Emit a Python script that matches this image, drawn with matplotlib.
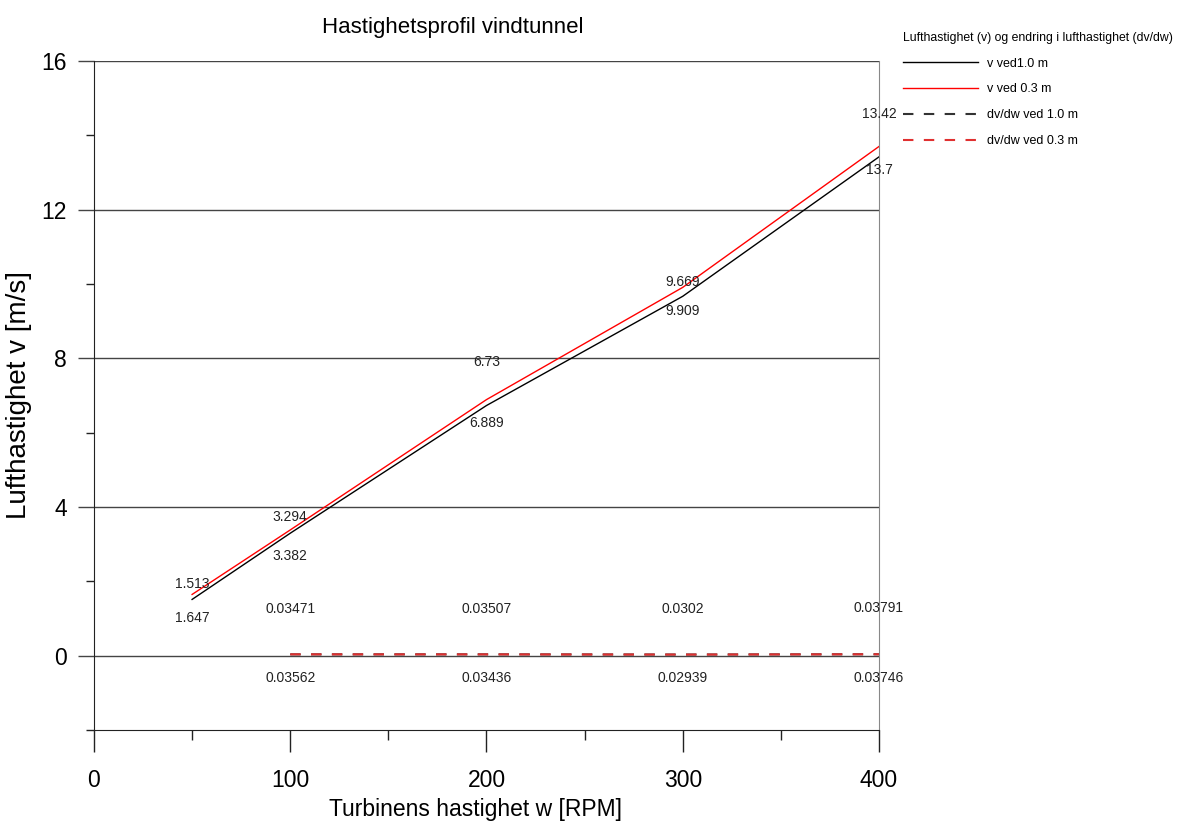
import matplotlib.pyplot as plt
from matplotlib.ticker import MultipleLocator

plt.rcParams['font.family'] = ['Liberation Sans Narrow', 'Liberation Sans', 'DejaVu Sans']

# Data
rpm_v = [50, 100, 200, 300, 400]
v_10 = [1.513, 3.294, 6.73, 9.669, 13.42]
v_03 = [1.647, 3.382, 6.889, 9.909, 13.7]

rpm_dv = [100, 200, 300, 400]
dv_10 = [0.03471, 0.03507, 0.0302, 0.03791]
dv_03 = [0.03562, 0.03436, 0.02939, 0.03746]

# label offsets (points) above/below line
off_v10 = [11, 12, 31, 10, 31]
off_v03 = [-17, -19, -17, -17, -17]

fig = plt.figure(figsize=(12, 8.32), dpi=100)
ax = fig.add_axes([0.0783, 0.1226, 0.6542, 0.8041])

ax.plot(rpm_v, v_10, color='black', lw=1, label='v ved1.0 m')
ax.plot(rpm_v, v_03, color='red', lw=1, label='v ved 0.3 m')
ax.plot(rpm_dv, dv_10, color='#333333', lw=1.5, ls=(0, (5, 5)), label='dv/dw ved 1.0 m')
ax.plot(rpm_dv, dv_03, color='#e03030', lw=1.5, ls=(0, (5, 5)), label='dv/dw ved 0.3 m')

for x, y, o in zip(rpm_v, v_10, off_v10):
    ax.annotate(f'{y:g}', (x, y), xytext=(0, o), textcoords='offset points',
                ha='center', va='center', fontsize=10, color='#222222')
for x, y, o in zip(rpm_v, v_03, off_v03):
    ax.annotate(f'{y:g}', (x, y), xytext=(0, o), textcoords='offset points',
                ha='center', va='center', fontsize=10, color='#222222')
for x, y in zip(rpm_dv, dv_10):
    ax.annotate(f'{y:g}', (x, y), xytext=(0, 33), textcoords='offset points',
                ha='center', va='center', fontsize=10, color='#222222')
for x, y in zip(rpm_dv, dv_03):
    ax.annotate(f'{y:g}', (x, y), xytext=(0, -17), textcoords='offset points',
                ha='center', va='center', fontsize=10, color='#222222')

ax.set_xlim(0, 400)
ax.set_ylim(-2, 16)
ax.xaxis.set_major_locator(MultipleLocator(100))
ax.xaxis.set_minor_locator(MultipleLocator(50))
ax.yaxis.set_major_locator(MultipleLocator(4))
ax.yaxis.set_minor_locator(MultipleLocator(2))

ax.grid(axis='y', which='major', color='#444444', lw=1)
ax.set_axisbelow(True)

ax.spines['top'].set_visible(False)
ax.spines['right'].set_color('#888888')
ax.spines['left'].set_color('#222222')
ax.spines['bottom'].set_color('#222222')

ax.tick_params(axis='y', which='major', length=11.5, width=1, color='#444444',
               pad=8, labelsize=16.5)
ax.tick_params(axis='y', which='minor', length=5.8, width=1, color='#222222')
ax.tick_params(axis='x', which='major', length=16, width=1, color='#222222',
               pad=12, labelsize=16.5)
ax.tick_params(axis='x', which='minor', length=7, width=1, color='#222222')

ax.set_xlabel('Turbinens hastighet w [RPM]', fontsize=16.5)
ax.xaxis.set_label_coords(0.4854, -0.102)
ax.set_ylabel('Lufthastighet v [m/s]', fontsize=20)
ax.yaxis.set_label_coords(-0.079, 0.5)
fig.text(453 / 1200, 1 - 27 / 832, 'Hastighetsprofil vindtunnel', fontsize=16,
         ha='center', va='center')

leg = ax.legend(loc='upper left', bbox_to_anchor=(903 / 1200, 1 - 32 / 832),
                bbox_transform=fig.transFigure, frameon=False, fontsize=9,
                title='Lufthastighet (v) og endring i lufthastighet (dv/dw)',
                title_fontsize=8.8, handlelength=6, handletextpad=0.7,
                labelspacing=1.1, borderaxespad=0, borderpad=0)
leg._legend_box.align = 'left'

fig.savefig('out.png', dpi=100)
